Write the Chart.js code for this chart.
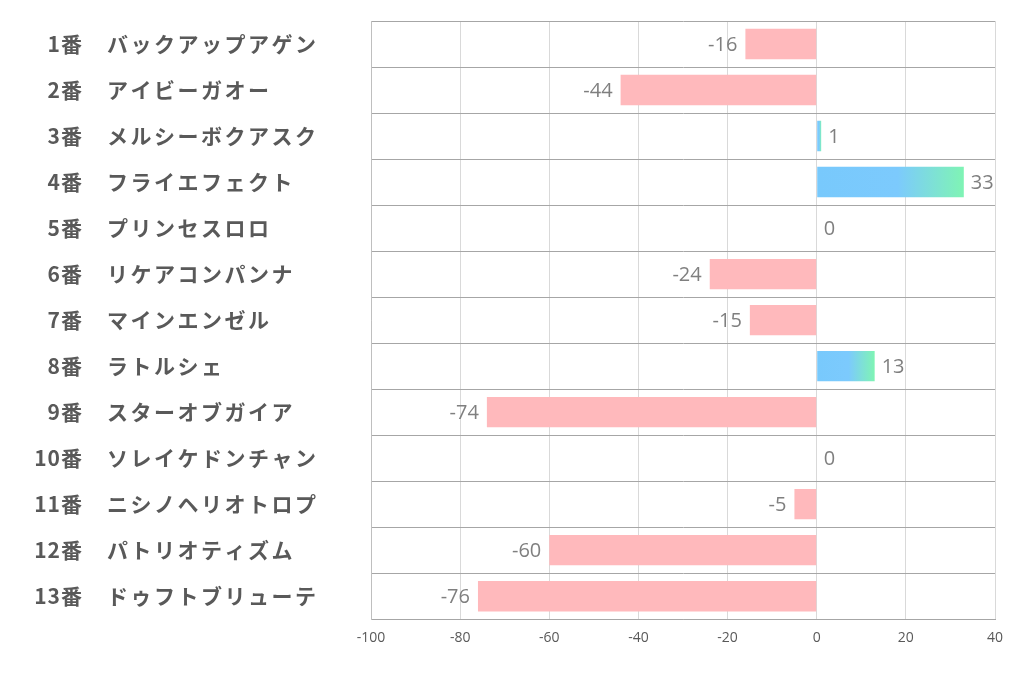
<!DOCTYPE html>
<html>
<head>
<meta charset="utf-8">
<script src="https://cdn.jsdelivr.net/npm/chart.js@4"></script>
<style>
  html, body { margin: 0; padding: 0; background: #fff; }
  #wrap { width: 1022px; height: 678px; }
</style>
</head>
<body>
<div id="wrap"><canvas id="chart"></canvas></div>
<script>
// --- DATA ---
const gateNumbers = ['1番', '2番', '3番', '4番', '5番', '6番', '7番', '8番', '9番', '10番', '11番', '12番', '13番'];
const horseNames = ['バックアップアゲン', 'アイビーガオー', 'メルシーボクアスク', 'フライエフェクト', 'プリンセスロロ',
    'リケアコンパンナ', 'マインエンゼル', 'ラトルシェ', 'スターオブガイア', 'ソレイケドンチャン',
    'ニシノヘリオトロプ', 'パトリオティズム', 'ドゥフトブリューテ'];
const scores = [-16, -44, 1, 33, 0, -24, -15, 13, -74, 0, -5, -60, -76];
const axisMin = -100;
const axisMax = 40;

const labelFont = '"Noto Sans CJK JP", "Noto Sans", sans-serif';

// bar colour: pink for negative, blue->green gradient for positive
function barColor(ctx) {
    const v = scores[ctx.dataIndex];
    if (v < 0) return '#ffb9bc';
    const chart = ctx.chart;
    if (!chart.chartArea || !chart.scales.x) return '#78c9fc';
    const x0 = chart.scales.x.getPixelForValue(0);
    const x1 = chart.scales.x.getPixelForValue(v);
    if (x1 - x0 < 4) return '#78c9fc';
    const g = chart.ctx.createLinearGradient(x0, 0, x1, 0);
    g.addColorStop(0, '#78c9fc');
    g.addColorStop(0.55, '#7ccafd');
    g.addColorStop(1, '#7ff4b4');
    return g;
}

// row labels: number right aligned, name left aligned
const rowLabels = {
    id: 'rowLabels',
    afterDraw(chart) {
        const c = chart.ctx;
        const y = chart.scales.y;
        c.save();
        c.fillStyle = '#595959';
        c.font = 'bold 21px ' + labelFont;
        c.textBaseline = 'middle';
        gateNumbers.forEach((n, i) => {
            const py = y.getPixelForValue(i);
            c.letterSpacing = '1px';
            c.textAlign = 'right';
            c.fillText(n, 83, py);
            c.letterSpacing = '2.5px';
            c.textAlign = 'left';
            c.fillText(horseNames[i], 107, py);
        });
        c.restore();
    }
};

// value labels next to bar ends
const valueLabels = {
    id: 'valueLabels',
    afterDatasetsDraw(chart) {
        const c = chart.ctx;
        const x = chart.scales.x;
        const y = chart.scales.y;
        c.save();
        c.fillStyle = '#7f7f7f';
        c.font = '20px "Open Sans", "Noto Sans", sans-serif';
        c.textBaseline = 'middle';
        scores.forEach((v, i) => {
            const px = x.getPixelForValue(v);
            const py = y.getPixelForValue(i) + 1;
            if (v < 0) {
                c.textAlign = 'right';
                c.fillText(String(v), px - 8, py);
            } else {
                c.textAlign = 'left';
                c.fillText(String(v), px + 7, py);
            }
        });
        c.restore();
    }
};

new Chart(document.getElementById('chart'), {
    type: 'bar',
    data: {
        labels: horseNames,
        datasets: [{
            data: scores,
            backgroundColor: barColor,
            borderWidth: 0,
            barPercentage: 0.66,
            categoryPercentage: 1.0
        }]
    },
    options: {
        indexAxis: 'y',
        responsive: true,
        maintainAspectRatio: false,
        animation: false,
        layout: { padding: { left: 371, right: 27, top: 21, bottom: 22 } },
        plugins: { legend: { display: false }, tooltip: { enabled: false } },
        scales: {
            x: {
                min: axisMin,
                max: axisMax,
                ticks: { stepSize: 20, color: '#595959', font: { size: 14, family: '"Open Sans", sans-serif' }, padding: 10 },
                grid: { color: '#d9d9d9', drawTicks: false },
                border: { color: '#a6a6a6' }
            },
            y: {
                ticks: { display: false },
                grid: { color: '#a6a6a6', offset: true, drawTicks: false },
                border: { color: '#bfbfbf' }
            }
        }
    },
    plugins: [rowLabels, valueLabels]
});
</script>
</body>
</html>
